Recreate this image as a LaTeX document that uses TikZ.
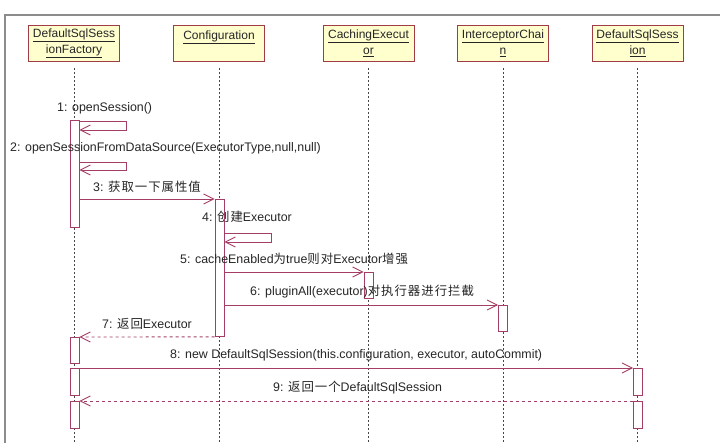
\documentclass[tikz,border=0pt]{standalone}
\usepackage{fontspec}
\setmainfont{Liberation Sans}
\newfontfamily\cjk[LetterSpace=8]{Noto Sans CJK SC}
\usepackage{tikz}
\usetikzlibrary{arrows.meta,positioning}
\definecolor{framegray}{RGB}{140,140,140}
\definecolor{boxred}{RGB}{160,60,70}
\definecolor{boxyellow}{RGB}{255,255,206}
\definecolor{msgpink}{RGB}{165,62,102}
\definecolor{lifegray}{RGB}{70,70,70}
\newcommand{\zh}[1]{{\cjk #1}}
\tikzset{
  headbox/.style={
    draw=boxred,fill=boxyellow,line width=0.9pt,minimum width=91pt,
    minimum height=36pt,inner sep=0pt,align=center,anchor=north,
    text=black!85,font=\fontsize{12}{16}\selectfont
  },
  actbox/.style={draw=msgpink,fill=white,line width=0.9pt,minimum width=9pt,
    inner sep=0pt,anchor=north},
  lifeline/.style={draw=lifegray,line width=0.9pt,dash pattern=on 2pt off 2pt},
  msgarrow/.style={draw=msgpink,line width=0.9pt,-{Straight Barb[length=10pt,width=10pt]}},
  retarrow/.style={msgarrow,dash pattern=on 3pt off 3pt},
  msglabel/.style={anchor=west,inner sep=0pt,text=black!85,
    font=\fontsize{12.4}{14}\selectfont}
}
\begin{document}
\begin{tikzpicture}[x=1pt,y=-1pt]
  \useasboundingbox[fill=white] (0,0) rectangle (720,443);
  \draw[framegray,line width=1.6pt] (720,15) -- (5,15) -- (5,443);

  % objects
  \node[headbox] (dsf) at (74,25) {\underline{DefaultSqlSess}\\\underline{ionFactory}};
  \node[headbox] (cfg) at (219,25) {\underline{Configuration}\\~};
  \node[headbox] (cex) at (368.5,25) {\underline{CachingExecut}\\\underline{or}};
  \node[headbox] (ich) at (503,25) {\underline{InterceptorChai}\\\underline{n}};
  \node[headbox] (dss) at (637.5,25) {\underline{DefaultSqlSess}\\\underline{ion}};

  \foreach \o in {dsf,cfg,cex,ich,dss}
    \draw[lifeline] ([yshift=-6pt]\o.south) -- (\o.south |- 0,443);

  % activations
  \node[actbox,minimum height=107pt] (dsfact1) at (74.5,120) {};
  \node[actbox,minimum height=137pt] (cfgact) at (219.5,199) {};
  \node[actbox,minimum height=26pt] (cexact) at (368.5,272) {};
  \node[actbox,minimum height=26pt] (ichact) at (503,305) {};
  \node[actbox,minimum height=26pt] (dsfact2) at (74.5,337) {};
  \node[actbox,minimum height=27pt] (dsfact3) at (74.5,368) {};
  \node[actbox,minimum height=27pt] (dssact1) at (638,368) {};
  \node[actbox,minimum height=27pt] (dsfact4) at (74.5,401) {};
  \node[actbox,minimum height=27pt] (dssact2) at (638,401) {};

  % messages
  \node[msglabel] (m1) at (57,108) {1: openSession()};
  \draw[msgarrow] (dsfact1.east |- 0,121) -| (126,130) -- (dsfact1.east |- 0,130);
  \node[msglabel] (m2) at (10,148) {2: openSessionFromDataSource(ExecutorType,null,null)};
  \draw[msgarrow] (dsfact1.east |- 0,162) -| (126,170) -- (dsfact1.east |- 0,170);
  \node[msglabel] (m3) at (93,187) {3: \zh{获取一下属性值}};
  \draw[msgarrow] (dsfact1.east |- cfgact.north) -- (cfgact.north west);
  \node[msglabel] (m4) at (202,217) {4: \zh{创建}Executor};
  \draw[msgarrow] (cfgact.east |- 0,233) -| (271,242) -- (cfgact.east |- 0,242);
  \node[msglabel] (m5) at (180,259) {5: cacheEnabled\zh{为}true\zh{则对}Executor\zh{增强}};
  \draw[msgarrow] (cfgact.east |- cexact.north) -- (cexact.north west);
  \node[msglabel] (m6) at (250,292) {6: pluginAll(executor)\zh{对执行器进行拦截}};
  \draw[msgarrow] (cfgact.east |- ichact.north) -- (ichact.north west);
  \node[msglabel] (m7) at (102,324) {7: \zh{返回}Executor};
  \draw[retarrow] (cfgact.south west) -- (dsfact2.north east);
  \node[msglabel] (m8) at (170,355) {8: new DefaultSqlSession(this.configuration, executor, autoCommit)};
  \draw[msgarrow] (dsfact3.north east) -- (dssact1.north west);
  \node[msglabel] (m9) at (273,388) {9: \zh{返回一个}DefaultSqlSession};
  \draw[retarrow] (dssact2.north west) -- (dsfact4.north east);
\end{tikzpicture}
\end{document}
